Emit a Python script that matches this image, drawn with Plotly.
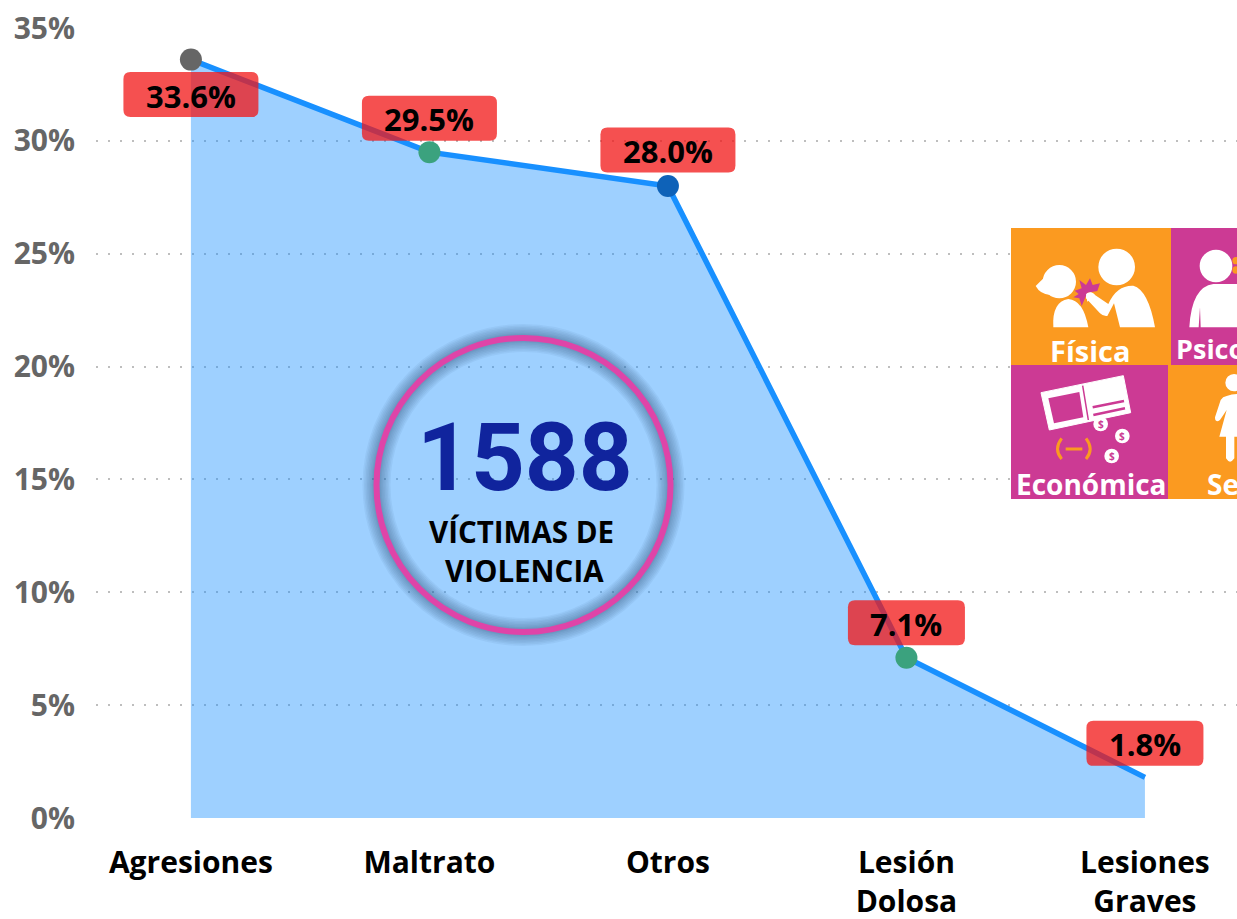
import re
import plotly.graph_objects as go

categories = ["Agresiones", "Maltrato", "Otros", "Lesión<br>Dolosa", "Lesiones<br>Graves"]
values = [33.6, 29.5, 28.0, 7.1, 1.8]
marker_colors = ["#666666", "#3BA27E", "#0E62B8", "#3BA27E", "rgba(0,0,0,0)"]
marker_sizes = [22, 22, 22, 22, 0]
label_shifts = [-35, 34, 36, 35, 34]
label_widths = [135, 135, 135, 117, 117]
y_ticks = [0, 5, 10, 15, 20, 25, 30, 35]
y_labels = ["0%", "5%", "10%", "15%", "20%", "25%", "30%", "35%"]

W, H = 1237, 919
L, R, T, B = 96, 1237, 28, 818
FONT = "Open Sans"

def X(p): return (p - L) / (R - L)
def Y(p): return (B - p) / (B - T)

def zpath(d):
    # icon outlines drawn in the 3x crop coordinates of the icon panel
    def rep(m):
        return f"{X(1000 + float(m[1]) / 3):.5f},{Y(220 + float(m[2]) / 3):.5f}"
    return re.sub(r"(-?[\d.]+),(-?[\d.]+)", rep, d)

shapes = []

def rect(x0, y0, x1, y1, color):
    shapes.append(dict(type="rect", xref="paper", yref="paper", x0=X(x0), x1=X(x1), y0=Y(y1), y1=Y(y0),
                       fillcolor=color, line_width=0, layer="above"))

def circ(cx, cy, r, fill="rgba(0,0,0,0)", line=None, lw=0):
    shapes.append(dict(type="circle", xref="paper", yref="paper", x0=X(cx - r), x1=X(cx + r), y0=Y(cy + r), y1=Y(cy - r),
                       fillcolor=fill, line=dict(color=line or "rgba(0,0,0,0)", width=lw), layer="above"))

def zcirc(x, y, r, fill="white"):
    circ(1000 + x / 3, 220 + y / 3, r / 3, fill)

def zshape(d, fill="white", line=None, lw=0):
    shapes.append(dict(type="path", xref="paper", yref="paper", path=zpath(d), fillcolor=fill,
                       line=dict(color=line or "rgba(0,0,0,0)", width=lw), layer="above"))

# value label boxes, anchored at the data points
def rounded(w, h, r, cy):
    x0, x1, y0, y1 = -w / 2, w / 2, cy - h / 2, cy + h / 2
    return (f"M{x0+r},{y0} L{x1-r},{y0} Q{x1},{y0} {x1},{y0+r} L{x1},{y1-r} Q{x1},{y1} {x1-r},{y1} "
            f"L{x0+r},{y1} Q{x0},{y1} {x0},{y1-r} L{x0},{y0+r} Q{x0},{y0} {x0+r},{y0} Z")

for i, v in enumerate(values):
    shapes.append(dict(type="path", xref="x", yref="y", xsizemode="pixel", ysizemode="pixel",
                       xanchor=i, yanchor=v, path=rounded(label_widths[i], 45, 7, label_shifts[i]),
                       fillcolor="rgba(242,21,21,0.75)", line_width=0, layer="above"))

# central circle
CX, CY, CR = 523.5, 485, 147
for w in [28, 25, 22, 19, 16, 13, 10, 8]:
    circ(CX, CY, CR, line="rgba(30,60,110,0.06)", lw=w)
circ(CX, CY, CR, line="#DF44A8", lw=6)

# icon panel
ORANGE, MAGENTA = "#FB9A20", "#CC3A94"
rect(1011, 228, 1171, 365, ORANGE)
rect(1171, 228, 1237, 365, MAGENTA)
rect(1011, 365, 1168, 499, MAGENTA)
rect(1168, 365, 1237, 499, ORANGE)

# Física
zcirc(350, 141, 55)
zcirc(178, 185, 50)
zshape("M107,198 L135,170 L150,225 Q120,222 107,198 Z")
zshape("M160,322 Q155,245 205,237 Q250,240 265,322 Z")
zshape("M360,322 L342,250 L322,288 Q310,290 300,280 L258,235 Q255,215 275,218 L325,252 "
       "Q350,195 400,197 Q445,210 465,322 Z")
zshape("M224,212 L245,205 L238,180 L258,195 L270,175 L278,195 L300,190 L292,213 L262,218 L255,235 L245,258 "
       "L238,235 L220,232 L236,222 Z", MAGENTA)
zshape("M258,222 Q275,210 285,225 L262,245 Z", "white")

# Psicológica
zcirc(648, 138, 49)
zshape("M568,322 Q575,200 640,192 L711,192 L711,322 L602,322 L600,262 L596,322 Z")
zcirc(708, 122, 11, ORANGE)
zcirc(708, 150, 11, ORANGE)

# Económica
zshape("M123,518 L370,467 L392,578 L148,630 Z", "white", "white", 1)
zshape("M145,535 L238,516 L250,592 L162,610 Z", MAGENTA)
zshape("M248,497 L265,600", "rgba(0,0,0,0)", MAGENTA, 1.5)
zshape("M278,562 L372,543", "rgba(0,0,0,0)", MAGENTA, 2.5)
zshape("M280,585 L375,565", "rgba(0,0,0,0)", MAGENTA, 2.5)
zshape("M185,655 Q160,687 185,717", "rgba(0,0,0,0)", ORANGE, 3)
zshape("M258,655 Q283,687 258,717", "rgba(0,0,0,0)", ORANGE, 3)
zshape("M197,687 L247,687", "rgba(0,0,0,0)", ORANGE, 3)
coins = [(302, 612), (367, 648), (335, 708)]
for cx, cy in coins:
    zcirc(cx, cy, 22)

# Sexual
zcirc(702, 488, 26)
zshape("M680,528 Q695,522 711,522 L711,650 L703,650 L703,715 Q690,735 678,715 L678,650 L658,650 L680,570 L660,600 "
       "Q645,610 645,592 L662,540 Q668,530 680,528 Z")

annotations = []
for i, v in enumerate(values):
    annotations.append(dict(x=i, y=v, xref="x", yref="y", text=f"{v:.1f}%", showarrow=False,
                            yshift=label_shifts[i] - 1, font=dict(family=FONT, size=31, color="black", weight=700)))

def note(text, x, y, size, color, family=FONT, anchor="center"):
    annotations.append(dict(x=X(x), y=Y(y), xref="paper", yref="paper", text=text, showarrow=False, xanchor=anchor,
                            yanchor="middle", font=dict(family=family, size=size, color=color, weight=700)))

note("1588", 525, 458, 94, "#10249D", "Roboto")
note("VÍCTIMAS DE", 521, 531, 29.5, "black")
note("VIOLENCIA", 524, 570, 29.5, "black")
note("Física", 1090, 351, 29, "white")
note("Psicológica", 1174, 348, 27, "white", anchor="left")
note("Económica", 1091, 484, 28, "white")
note("Sexual", 1205, 484, 28, "white", anchor="left")
for cx, cy in coins:
    note("$", 1000 + cx / 3, 220 + cy / 3, 10, MAGENTA)

fig = go.Figure(go.Scatter(
    x=categories, y=values, mode="lines+markers",
    line=dict(color="#1890FF", width=5.5),
    fill="tozeroy", fillcolor="rgba(24,144,255,0.42)",
    marker=dict(color=marker_colors, size=marker_sizes, line_width=0, opacity=1),
    cliponaxis=False, hoverinfo="skip"))

fig.update_layout(
    width=W, height=H, autosize=False, showlegend=False,
    paper_bgcolor="white", plot_bgcolor="white",
    margin=dict(l=L, r=W - R, t=T, b=H - B, pad=0, autoexpand=False),
    shapes=shapes, annotations=annotations,
    xaxis=dict(type="category", range=[-0.398, 4.386], showgrid=False, zeroline=False, showline=False,
               automargin=False,
               ticks="", tickfont=dict(family=FONT, size=30, color="black", weight=700), tickangle=0,
               ticklabelstandoff=24),
    yaxis=dict(range=[0, 35], tickvals=y_ticks, ticktext=y_labels, showline=False, zeroline=False,
               automargin=False,
               gridcolor="#BEBEBE", griddash="2px,10px", gridwidth=2, ticks="",
               tickfont=dict(family=FONT, size=30, color="#666666", weight=700), ticklabelstandoff=20),
)

fig.write_html("out.html", config=dict(displayModeBar=False),
               post_script="document.body.style.margin='0';document.documentElement.style.overflow='hidden';")
